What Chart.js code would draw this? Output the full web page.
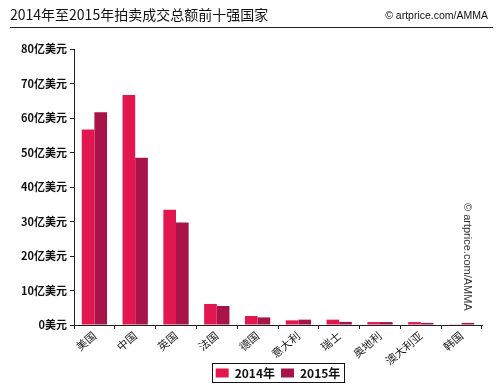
<!DOCTYPE html>
<html>
<head>
<meta charset="utf-8">
<script src="https://cdn.jsdelivr.net/npm/chart.js@4"></script>
<style>
  body { margin: 0; background: #fff; }
  #wrap { width: 500px; height: 389px; }
</style>
</head>
<body>
<div id="wrap"><canvas id="auction"></canvas></div>
<script>
const countries = ['美国', '中国', '英国', '法国', '德国', '意大利', '瑞士', '奥地利', '澳大利亚', '韩国'];
const sales2014 = [56.7, 66.7, 33.4, 6.1, 2.6, 1.35, 1.55, 0.85, 0.85, 0.2];
const sales2015 = [61.7, 48.5, 29.7, 5.5, 2.2, 1.55, 0.9, 0.85, 0.6, 0.6];
const yTicks = [0, 10, 20, 30, 40, 50, 60, 70, 80];

const FONT = "'Liberation Sans Narrow', 'Noto Sans CJK SC', sans-serif";

// title, rule and copyright lines
const decor = {
    id: 'decor',
    afterDraw(chart) {
        const c = chart.ctx;
        c.save();
        c.fillStyle = '#111';
        c.textBaseline = 'alphabetic';
        c.font = "14px " + FONT;
        c.textAlign = 'left';
        c.fillText('2014年至2015年拍卖成交总额前十强国家', 10, 20);
        c.font = "10.5px 'Liberation Sans', sans-serif";
        c.textAlign = 'right';
        c.fillText('© artprice.com/AMMA', 488, 19);
        c.strokeStyle = '#222';
        c.lineWidth = 1;
        c.beginPath();
        c.moveTo(10, 27.5);
        c.lineTo(493, 27.5);
        c.stroke();

        // vertical watermark
        c.translate(464, 203);
        c.rotate(Math.PI / 2);
        c.textAlign = 'left';
        c.font = "11px 'Liberation Sans', sans-serif";
        c.fillStyle = '#333';
        c.fillText('© artprice.com/AMMA', 0, 0);
        c.restore();

        // frame around the legend
        const boxes = chart.legend.legendHitBoxes;
        if (boxes && boxes.length) {
            let x0 = Infinity, x1 = -Infinity, y0 = Infinity, y1 = -Infinity;
            boxes.forEach(b => {
                x0 = Math.min(x0, b.left); x1 = Math.max(x1, b.left + b.width);
                y0 = Math.min(y0, b.top); y1 = Math.max(y1, b.top + b.height);
            });
            c.save();
            c.strokeStyle = '#111';
            c.lineWidth = 1;
            c.strokeRect(Math.round(x0 - 4) + 0.5, Math.round(y0 - 4) + 0.5, Math.round(x1 - x0 + 7), Math.round(y1 - y0 + 7));
            c.restore();
        }
    }
};

new Chart(document.getElementById('auction'), {
    type: 'bar',
    data: {
        labels: countries,
        datasets: [{
            label: '2014年',
            data: sales2014,
            backgroundColor: '#e3174f'
        }, {
            label: '2015年',
            data: sales2015,
            backgroundColor: '#a8144a'
        }]
    },
    options: {
        responsive: true,
        maintainAspectRatio: false,
        animation: false,
        categoryPercentage: 0.62,
        barPercentage: 1,
        layout: {
            padding: { top: 49, right: 18, bottom: 0, left: 0 }
        },
        plugins: {
            legend: {
                position: 'bottom',
                fullSize: false,
                labels: {
                    boxWidth: 13,
                    boxHeight: 9,
                    color: '#111',
                    padding: 6,
                    font: { family: FONT, size: 12, weight: 'bold' }
                }
            },
            tooltip: { enabled: false }
        },
        scales: {
            x: {
                afterFit(axis) {
                    axis.height = 36;
                    // let the long rotated names run past the axis box
                    axis._computeLabelArea = () => undefined;
                },
                grid: { drawOnChartArea: false, tickLength: 4, color: '#222' },
                border: { color: '#222' },
                ticks: {
                    color: '#1a1a1a',
                    minRotation: 40,
                    maxRotation: 40,
                    padding: 0,
                    font: { family: FONT, size: 11 }
                }
            },
            y: {
                min: 0,
                max: 80,
                afterFit(axis) { axis.width = 74; },
                afterBuildTicks(axis) { axis.ticks = yTicks.map(v => ({ value: v })); },
                grid: { drawOnChartArea: false, tickLength: 4, color: '#222' },
                border: { color: '#222' },
                ticks: {
                    color: '#111',
                    padding: 3,
                    font: { family: FONT, size: 11, weight: 'bold' },
                    callback: v => v === 0 ? '0美元' : v + '亿美元'
                }
            }
        }
    },
    plugins: [decor]
});
</script>
</body>
</html>
